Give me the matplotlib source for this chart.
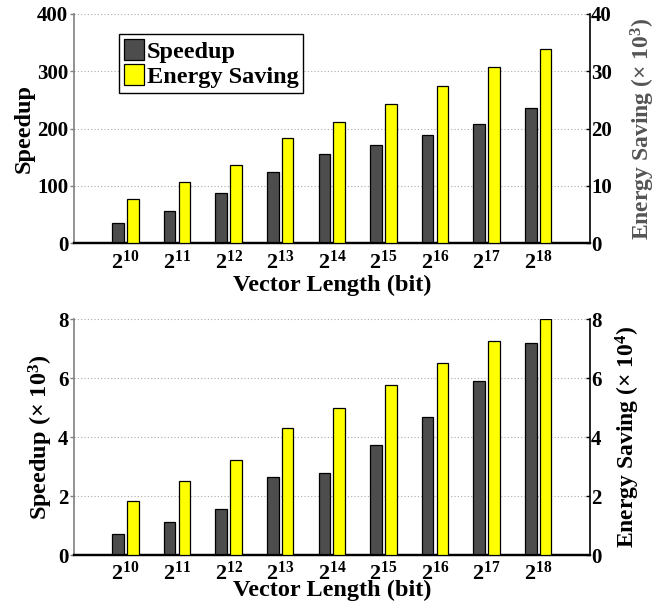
import matplotlib
matplotlib.use("Agg")
import matplotlib.pyplot as plt
import numpy as np

plt.rcParams['font.family'] = ['Liberation Serif', 'DejaVu Serif']
plt.rcParams['font.weight'] = 'bold'
plt.rcParams['mathtext.fontset'] = 'custom'
plt.rcParams['mathtext.rm'] = 'Liberation Serif:bold'
plt.rcParams['mathtext.bf'] = 'Liberation Serif:bold'
plt.rcParams['mathtext.it'] = 'Liberation Serif:bold'

exponents = [10, 11, 12, 13, 14, 15, 16, 17, 18]
tick_labels = [r'$\mathbf{2^{%d}}$' % e for e in exponents]

# Top panel
speedup_top = [35, 57, 88, 124, 156, 172, 188, 208, 236]          # left axis
energy_top = [7.7, 10.7, 13.6, 18.3, 21.2, 24.3, 27.5, 30.7, 33.9]  # x10^3, right axis

# Bottom panel
speedup_bot = [0.72, 1.12, 1.56, 2.65, 2.77, 3.73, 4.68, 5.90, 7.18]  # x10^3
energy_bot = [1.82, 2.51, 3.21, 4.31, 5.00, 5.76, 6.50, 7.24, 8.00]   # x10^4

DARK = '#4d4d4d'
YEL = '#ffff00'

fig = plt.figure(figsize=(6.71, 6.05), dpi=100)

def panel(rect, sp, en, ylim_l, yticks_l, ylim_r, yticks_r, ylab_l, ylab_r, rcolor, legend,
          xlabelpad, llabelpad, rlabelpad):
    ax = fig.add_axes(rect)
    ax2 = ax.twinx()
    x = np.arange(1, len(sp) + 1)
    w = 0.225
    off = 0.145
    b1 = ax.bar(x - off, sp, w, color=DARK, edgecolor='black', linewidth=0.9, label='Speedup', zorder=3)
    b2 = ax2.bar(x + off, en, w, color=YEL, edgecolor='black', linewidth=0.9, label='Energy Saving', zorder=3)
    ax.set_xlim(0, 10)
    ax.set_ylim(*ylim_l)
    ax.set_yticks(yticks_l)
    ax2.set_ylim(*ylim_r)
    ax2.set_yticks(yticks_r)
    ax.set_xticks(x)
    ax.set_xticklabels(tick_labels, fontsize=16)
    ax.tick_params(axis='x', length=0, pad=5)
    ax.tick_params(axis='y', labelsize=15, length=3, width=1, direction='out', color='#808080', pad=1)
    ax2.tick_params(axis='y', labelsize=15, length=3, width=1, direction='in', color='black', pad=1)
    for t in ax.get_yticklabels() + ax2.get_yticklabels():
        t.set_fontweight('bold')
    ax.yaxis.grid(True, linestyle=(0, (1, 2)), color='#aaaaaa', linewidth=0.8, zorder=0)
    ax.set_axisbelow(True)
    for a in (ax, ax2):
        a.spines['top'].set_visible(False)
    ax.spines['left'].set_color('#808080')
    ax.spines['left'].set_linewidth(1.2)
    ax.spines['right'].set_visible(False)
    ax2.spines['left'].set_visible(False)
    ax2.spines['bottom'].set_color('black')
    ax2.spines['bottom'].set_linewidth(1.6)
    ax.spines['bottom'].set_linewidth(1.6)
    ax2.spines['right'].set_color('black')
    ax2.spines['right'].set_linewidth(1.2)
    ax.set_xlabel('Vector Length (bit)', fontsize=17.5, fontweight='bold', labelpad=xlabelpad)
    ax.set_ylabel(ylab_l, fontsize=17.5, fontweight='bold', labelpad=llabelpad)
    ax2.set_ylabel(ylab_r, fontsize=17, fontweight='bold', color=rcolor, labelpad=rlabelpad)
    if legend:
        leg = ax.legend([b1, b2], ['Speedup', 'Energy Saving'], loc='lower left',
                        bbox_to_anchor=(0.087, 0.655), borderaxespad=0,
                        prop={'family': 'Liberation Serif', 'weight': 'bold', 'size': 17.5},
                        handlelength=0.85, handleheight=0.95, handletextpad=0.1,
                        labelspacing=0.05, borderpad=0.2, fancybox=False,
                        edgecolor='black', framealpha=1)
        leg.get_frame().set_linewidth(1.0)
        leg.set_zorder(10)
    return ax, ax2

panel([0.110, 0.598, 0.769, 0.379], speedup_top, energy_top, (0, 400), [0, 100, 200, 300, 400],
      (0, 40), [0, 10, 20, 30, 40], 'Speedup', r'Energy Saving ($\times$ 10$^{\mathbf{3}}$)', '#555555', True,
      1, 2, 12)

panel([0.110, 0.0826, 0.769, 0.390], speedup_bot, energy_bot, (0, 8), [0, 2, 4, 6, 8],
      (0, 8), [0, 2, 4, 6, 8], r'Speedup ($\times$ 10$^{\mathbf{3}}$)', r'Energy Saving ($\times$ 10$^{\mathbf{4}}$)', 'black', False,
      -4, 2, 9)

fig.savefig('out.png', dpi=100)
